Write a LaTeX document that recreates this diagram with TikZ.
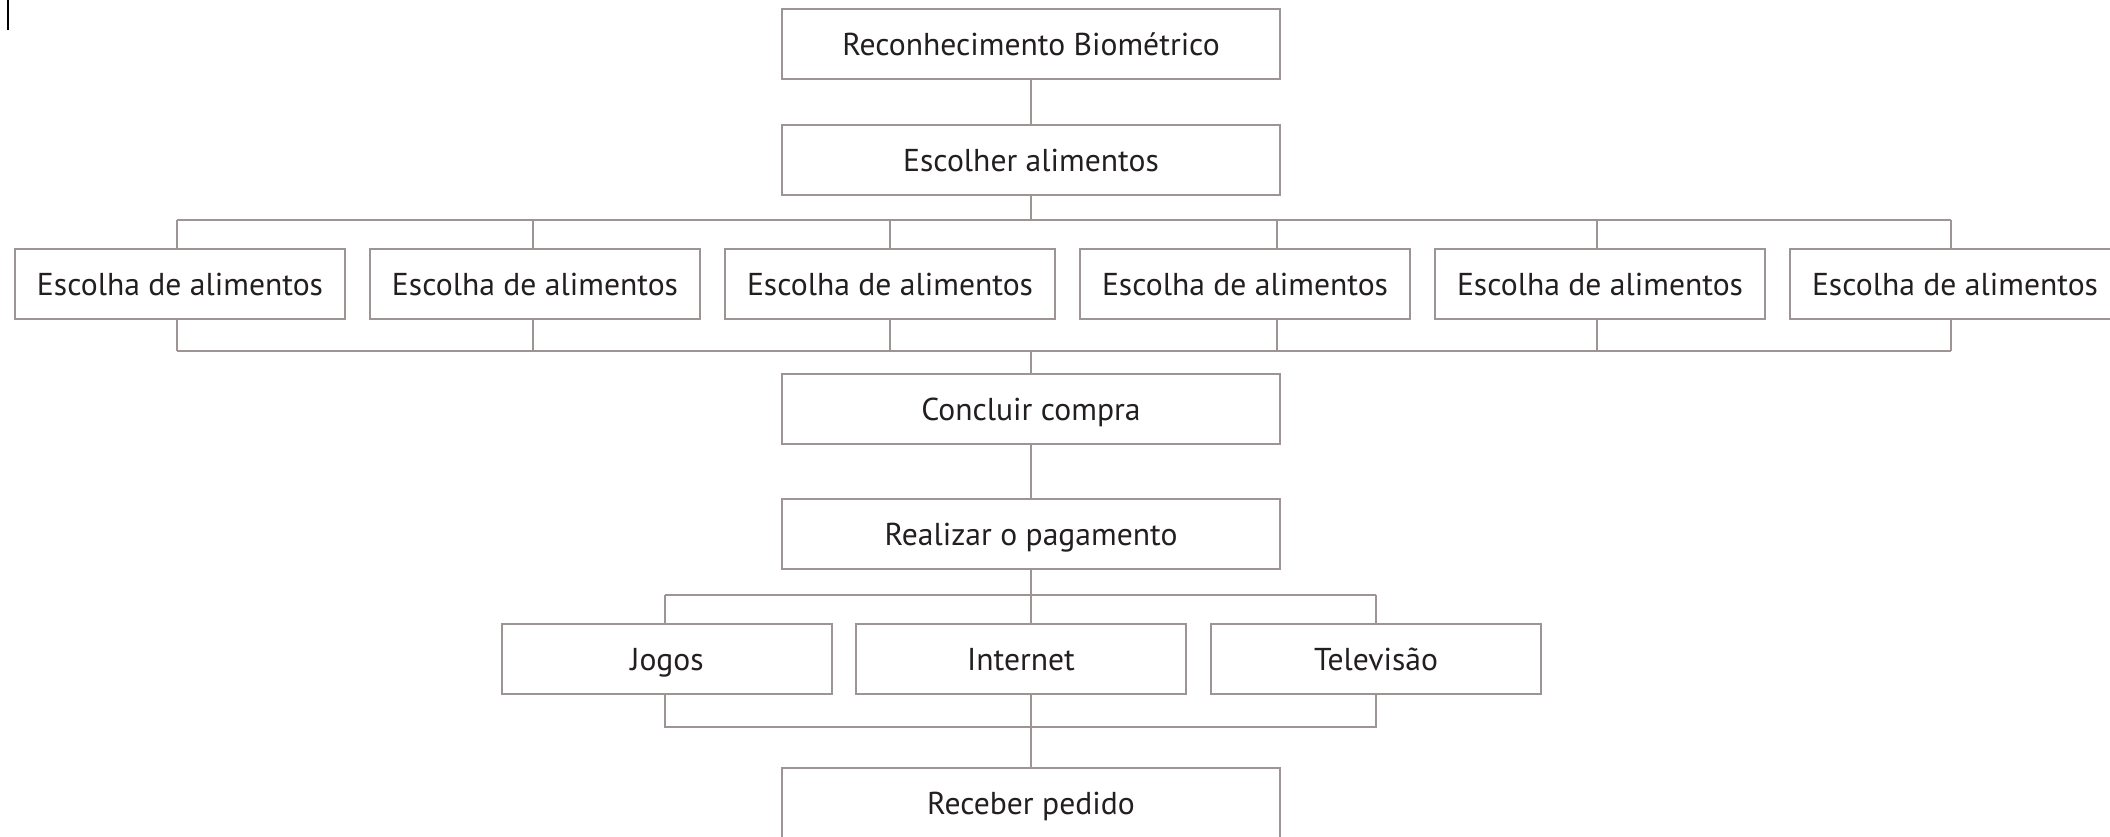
\documentclass[tikz,border=0pt]{standalone}
\usepackage{fontspec}
\setmainfont{PT Sans}
\definecolor{linegray}{HTML}{9D9593}
\definecolor{txtdark}{HTML}{231F20}

\begin{document}
\begin{tikzpicture}[
  x=0.02cm, y=-0.02cm,
  box/.style={draw=linegray, line width=1pt, fill=white, text=txtdark,
    minimum width=9.96cm, minimum height=1.4cm, inner sep=0pt,
    text height=13pt, text depth=0pt, font=\fontsize{18}{20}\selectfont},
  sbox/.style={box, minimum width=6.6cm},
  e/.style={draw=linegray, line width=1.1pt}
]
\useasboundingbox (0,0) rectangle (2110,836);

% main column
\node[box] (bio) at (1031,44) {Reconhecimento Biométrico};
\node[box] (esc) at (1031,160) {Escolher alimentos};
\foreach \i/\x in {1/180,2/535,3/890,4/1245,5/1600,6/1955}
  \node[sbox] (a\i) at (\x,284) {Escolha de alimentos};
\node[box] (conc) at (1031,409) {Concluir compra};
\node[box] (pag) at (1031,534) {Realizar o pagamento};
\node[sbox] (jog) at (667,659) {Jogos};
\node[sbox] (net) at (1021,659) {Internet};
\node[sbox] (tv) at (1376,659) {Televisão};
\node[box] (rec) at (1031,803) {Receber pedido};

% bus lines
\coordinate (top1) at (0,220);
\coordinate (bot1) at (0,351);
\coordinate (top2) at (0,595);
\coordinate (bot2) at (0,727);

\draw[e] (bio) -- (esc);
\draw[e] (esc.south) -- (esc.south |- top1);
\draw[e] ([xshift=-1.7pt]a1.north |- top1) -- ([xshift=-2.3pt]a6.north |- top1);
\draw[e] ([xshift=-1.7pt]a1.south |- bot1) -- ([xshift=-2.3pt]a6.south |- bot1);
\foreach \i/\s in {1/-1.7,2/-1.1,3/0,4/18,5/-1.7,6/-2.3} {
  \draw[e] ([xshift=\s pt]a\i.north) -- ([xshift=\s pt]a\i.north |- top1);
  \draw[e] ([xshift=\s pt]a\i.south) -- ([xshift=\s pt]a\i.south |- bot1);
}
\draw[e] (conc.north |- bot1) -- (conc.north);
\draw[e] (conc) -- (pag);

\draw[e] (pag.south) -- (pag.south |- top2);
\draw[e] ([xshift=-1pt]jog.north |- top2) -- (tv.north |- top2);
\draw[e] ([xshift=-1pt]jog.north |- top2) -- ([xshift=-1pt]jog.north);
\draw[e] (tv.north |- top2) -- (tv.north);
\draw[e] (pag.south |- top2) -- (pag.south |- net.north);
\draw[e] ([xshift=-1pt]jog.south) -- ([xshift=-1pt]jog.south |- bot2) -- (tv.south |- bot2) -- (tv.south);
\draw[e] (pag.south |- net.south) -- (rec.north);

% stray mark
\draw[black, line width=0.8pt] (8,0) -- (8,30);
\end{tikzpicture}
\end{document}
